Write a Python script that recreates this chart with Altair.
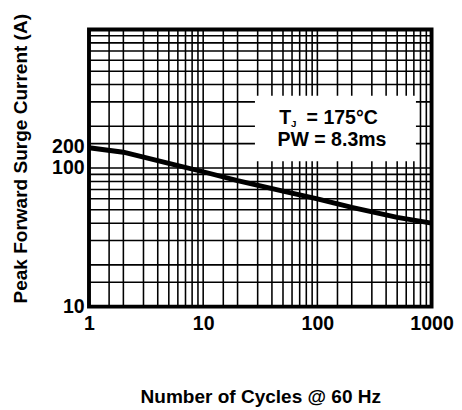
import altair as alt
import pandas as pd

# Curve: number of cycles vs peak forward surge current (A)
cycles = [1, 2, 5, 10, 20, 50, 100, 200, 500, 1000]
current = [140, 130, 108, 94, 81, 68, 60, 52, 44, 40]

# Tick labels
x_tick_values = [1, 10, 100, 1000]
x_tick_labels = ["1", "10", "100", "1000"]
y_tick_values = [10, 100, 143]
y_tick_labels = ["10", "100", "200"]

# Grid lines (log paper)
x_grid = [1.5, 2, 3, 4, 5, 6, 7, 8, 9, 10,
          15, 20, 30, 40, 50, 60, 70, 80, 90, 100,
          150, 200, 300, 400, 500, 600, 700, 800, 900]
y_grid = [15, 20, 30, 40, 50, 60, 70, 80, 90, 100,
          150, 200, 300, 400, 500, 600, 700, 800, 900]

# Annotation box (data units) and text
box_x = [28.4, 730]
box_y = [112, 332]
note_x = 129
note_y = [229, 160]

FONT = "Liberation Sans"

xscale = alt.Scale(type="log", domain=[1, 1000], nice=False)
yscale = alt.Scale(type="log", domain=[10, 1000], nice=False)


def label_expr(values, labels):
    parts = []
    for v, l in zip(values, labels):
        parts.append(f"datum.value == {v} ? '{l}'")
    return " : ".join(parts) + " : ''"


xaxis = alt.Axis(title="Number of Cycles @ 60 Hz", values=x_tick_values,
                 labelExpr=label_expr(x_tick_values, x_tick_labels),
                 grid=False, ticks=False, domain=False,
                 labelFont=FONT, labelFontSize=20, labelFontWeight="bold",
                 labelColor="black", labelPadding=7, labelFlush=False,
                 titleFont=FONT, titleFontSize=19.5, titleFontWeight="bold",
                 titleColor="black", titlePadding=56)
yaxis = alt.Axis(title="Peak Forward Surge Current (A)", values=y_tick_values,
                 labelExpr=label_expr(y_tick_values, y_tick_labels),
                 grid=False, ticks=False, domain=False,
                 labelFont=FONT, labelFontSize=20, labelFontWeight="bold",
                 labelColor="black", labelPadding=5, labelFlush=False,
                 titleFont=FONT, titleFontSize=19.5, titleFontWeight="bold",
                 titleColor="black", titlePadding=22, titleY=132)

X = lambda f: alt.X(f, scale=xscale, axis=xaxis, title="Number of Cycles @ 60 Hz")
Y = lambda f: alt.Y(f, scale=yscale, axis=yaxis, title="Peak Forward Surge Current (A)")

curve_df = pd.DataFrame({"x": cycles, "y": current})

line = alt.Chart(curve_df).mark_line(color="black", strokeWidth=5).encode(
    x=X("x:Q"), y=Y("y:Q"))

vgrid = alt.Chart(pd.DataFrame({"x": x_grid})).mark_rule(color="black", strokeWidth=1.6).encode(
    x=X("x:Q"))
hgrid = alt.Chart(pd.DataFrame({"y": y_grid})).mark_rule(color="black", strokeWidth=1.6).encode(
    y=Y("y:Q"))

box = alt.Chart(pd.DataFrame({"x": [box_x[0]], "x2": [box_x[1]],
                              "y": [box_y[0]], "y2": [box_y[1]]})).mark_rect(
    fill="white").encode(x=X("x:Q"), x2="x2:Q", y=Y("y:Q"), y2="y2:Q")

note_df = pd.DataFrame({"x": [note_x], "y1": [note_y[0]], "y2": [note_y[1]]})
txt_base = alt.Chart(note_df).encode(x=X("x:Q"))

t_main = txt_base.mark_text(text="T", font=FONT, fontSize=20, fontWeight="bold",
                            align="left", baseline="middle", dx=-52, color="black").encode(
    y=Y("y1:Q"))
t_sub = txt_base.mark_text(text="J", font=FONT, fontSize=10, fontWeight="bold",
                           align="left", baseline="middle", dx=-40, dy=6, color="black").encode(
    y=Y("y1:Q"))
t_rest = txt_base.mark_text(text="= 175°C", font=FONT, fontSize=20, fontWeight="bold",
                            align="left", baseline="middle", dx=-24, color="black").encode(
    y=Y("y1:Q"))
t_pw = txt_base.mark_text(text="PW = 8.3ms", font=FONT, fontSize=20, fontWeight="bold",
                          align="center", baseline="middle", dx=2, color="black").encode(
    y=Y("y2:Q"))

chart = alt.layer(vgrid, hgrid, box, line, t_main, t_sub, t_rest, t_pw).properties(
    width=351, height=284,
    padding={"top": 0, "left": 2, "right": 0, "bottom": 0},
    background="white",
).configure_view(stroke="black", strokeWidth=4)

chart.save("out.html", embed_options={"renderer": "svg", "actions": False})
